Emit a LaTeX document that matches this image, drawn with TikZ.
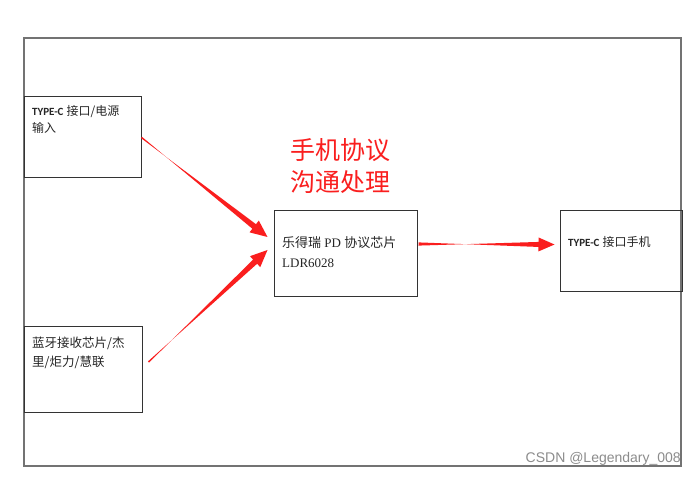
\documentclass[tikz,border=0pt]{standalone}
\usepackage{fontspec}
\setmainfont{Liberation Serif}
\newfontfamily\cjk{Noto Sans CJK SC}
\newfontfamily\lat{Carlito}
\newfontfamily\wm{Liberation Sans}
\usetikzlibrary{calc}
\definecolor{arrred}{RGB}{250,30,30}
% tapered arrow: #1 start, #2 tip, #3 start half width, #4 end half width, #5 head length, #6 head half width (all with units)
\newcommand{\taperarrow}[6]{%
  \coordinate (hb) at ($(#2)!#5!(#1)$);
  \fill[arrred]
    ($(#1)!#3!90:(#2)$) --
    ($(hb)!#4!-90:(#2)$) --
    ($(hb)!#6!-90:(#2)$) --
    (#2) --
    ($(hb)!#6!90:(#2)$) --
    ($(hb)!#4!90:(#2)$) --
    ($(#1)!#3!-90:(#2)$) -- cycle;}
\begin{document}
\begin{tikzpicture}[x=1pt,y=-1pt,
  box/.style={draw=black!80,line width=1pt,inner sep=0pt},
  txt/.style={anchor=north west,inner sep=0pt,align=left,text=black!85}]
\useasboundingbox (0,0) rectangle (696,478);
\fill[white] (0,0) rectangle (696,478);
% outer frame
\draw[draw=black!55,line width=1.6pt] (24,38) rectangle (681,466);
% boxes
\node[box,minimum width=117pt,minimum height=81pt] (b1) at (82.5,137.5) {};
\node[box,minimum width=118pt,minimum height=86pt] (b2) at (83,369) {};
\node[box,minimum width=143pt,minimum height=86pt] (c) at (345.5,254) {};
\node[box,minimum width=122pt,minimum height=81pt] (r) at (621,251.5) {};
% texts
\node[txt,font=\fontsize{12}{17}\selectfont] (t1) at (32,105) {{\lat\bfseries\fontsize{11}{11}\selectfont TYPE-C} {\cjk 接口/电源}\\{\cjk 输入}};
\node[txt,font=\cjk\fontsize{12.5}{18.5}\selectfont] (t2) at (32,337) {蓝牙接收芯片/杰\\里/炬力/慧联};
\node[txt,font=\fontsize{13}{20}\selectfont] (tc) at (282,236) {{\cjk 乐得瑞} PD {\cjk 协议芯片}\\LDR6028};
\node[txt,font=\fontsize{12}{17}\selectfont] (tr) at (568,236) {{\lat\bfseries\fontsize{11}{11}\selectfont TYPE-C} {\cjk 接口手机}};
\node[font=\cjk\fontsize{25}{32}\selectfont,text=arrred,align=center,inner sep=0pt] (rt) at (340,166) {手机协议\\沟通处理};
\node[font=\wm\fontsize{14}{14}\selectfont,text=black!45,anchor=east,inner sep=0pt] (wmk) at (681,459) {CSDN @Legendary\_008};
% arrows
\coordinate (s1) at (b1.east);
\coordinate (e1) at ($(c.west)+(-6,-17)$);
\coordinate (s2) at ($(b2.east)+(6,-7)$);
\coordinate (e2) at ($(c.west)+(-6,-4)$);
\coordinate (s3) at ($(c.east)+(1,-10)$);
\coordinate (e3) at ($(r.west)+(-5,-7)$);
\taperarrow{s1}{e1}{0.8pt}{2.9pt}{17pt}{7.5pt}
\taperarrow{s2}{e2}{0.8pt}{2.9pt}{17pt}{7.5pt}
\taperarrow{s3}{e3}{1.6pt}{2.5pt}{16pt}{7pt}
\end{tikzpicture}
\end{document}
